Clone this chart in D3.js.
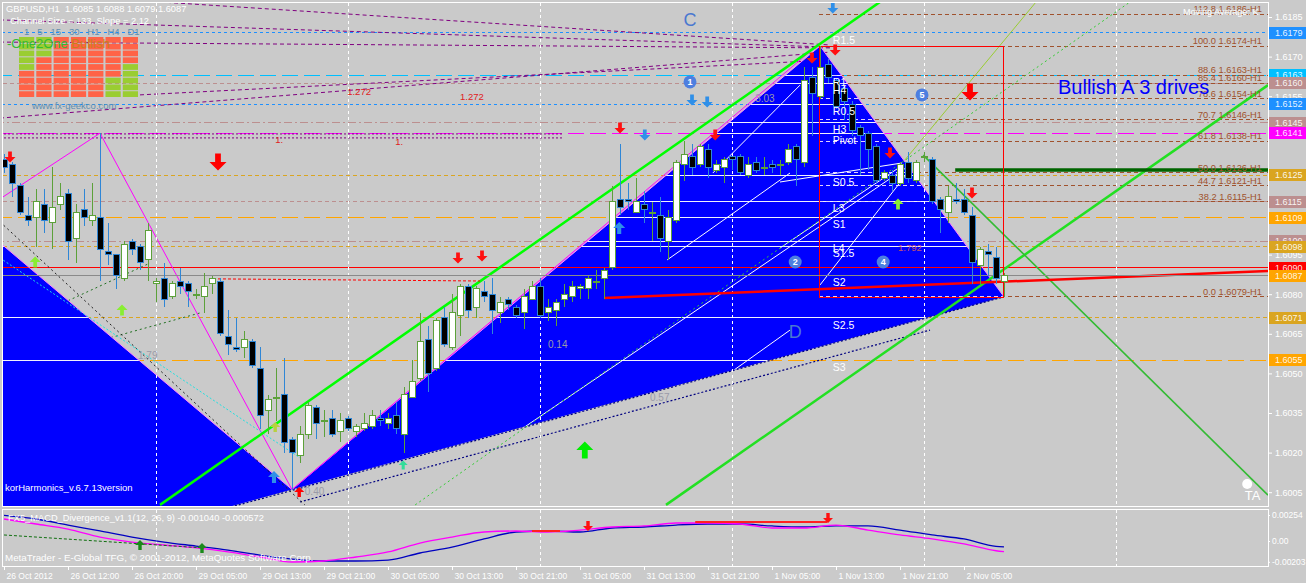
<!DOCTYPE html>
<html>
<head>
<meta charset="utf-8">
<script src="https://cdn.jsdelivr.net/npm/d3@7"></script>
<style>
body { margin: 0; background: #cacaca; }
svg { display: block; font-family: "Liberation Sans", Arial, sans-serif; }
</style>
</head>
<body>
<div id="chart"></div>
<script>
// ----- Dados (GBPUSD H1) -----
var tickBars = [0, 8, 16, 24, 32, 40, 48, 56, 64, 72, 80, 88, 96, 104, 112, 120];
var tickLabels = ["26 Oct 2012", "26 Oct 12:00", "26 Oct 20:00", "29 Oct 05:00", "29 Oct 13:00",
	"29 Oct 21:00", "30 Oct 05:00", "30 Oct 13:00", "30 Oct 21:00", "31 Oct 05:00", "31 Oct 13:00",
	"31 Oct 21:00", "1 Nov 05:00", "1 Nov 13:00", "1 Nov 21:00", "2 Nov 05:00"];
var daySeparators = [19, 43, 67, 91, 115, 139];

var open = [1.6131,1.6129,1.6121,1.6110,1.6109,1.6114,1.6107,1.6114,1.6118,1.6101,
	1.6112,1.6108,1.6109,1.6096,1.6095,1.6086,1.6100,1.6098,1.6093,1.6084,
	1.6086,1.6079,1.6085,1.6084,1.6080,1.6079,1.6084,1.6085,1.6064,1.6060,
	1.6060,1.6062,1.6052,1.6036,1.6041,1.6042,1.6025,1.6019,1.6027,1.6037,
	1.6032,1.6033,1.6028,1.6033,1.6028,1.6029,1.6030,1.6033,1.6031,1.6034,
	1.6027,1.6041,1.6048,1.6063,1.6052,1.6071,1.6060,1.6072,1.6083,1.6075,
	1.6081,1.6080,1.6073,1.6078,1.6075,1.6073,1.6078,1.6083,1.6073,1.6074,
	1.6078,1.6079,1.6082,1.6082,1.6085,1.6086,1.6090,1.6116,1.6116,1.6111,
	1.6114,1.6111,1.6110,1.6100,1.6108,1.6129,1.6132,1.6129,1.6135,1.6127,
	1.6128,1.6132,1.6132,1.6125,1.6130,1.6128,1.6129,1.6129,1.6130,1.6136,
	1.6130,1.6162,1.6155,1.6167,1.6161,1.6158,1.6152,1.6143,1.6141,1.6136,
	1.6124,1.6125,1.6122,1.6130,1.6123,1.6132,1.6131,1.6116,1.6111,1.6116,
	1.6116,1.6110,1.6091,1.6096,1.6094,1.6085];
var high = [1.6133,1.6130,1.6122,1.6117,1.6120,1.6120,1.6128,1.6122,1.6120,1.6114,
	1.6120,1.6122,1.6141,1.6107,1.6095,1.6100,1.6101,1.6099,1.6107,1.6086,
	1.6092,1.6085,1.6090,1.6085,1.6082,1.6088,1.6087,1.6086,1.6074,1.6071,
	1.6066,1.6063,1.6060,1.6042,1.6052,1.6056,1.6026,1.6030,1.6039,1.6038,
	1.6036,1.6036,1.6035,1.6034,1.6031,1.6035,1.6036,1.6036,1.6035,1.6039,
	1.6045,1.6055,1.6073,1.6068,1.6071,1.6075,1.6080,1.6084,1.6084,1.6083,
	1.6085,1.6086,1.6079,1.6079,1.6076,1.6082,1.6085,1.6086,1.6078,1.6078,
	1.6084,1.6085,1.6084,1.6087,1.6089,1.6090,1.6121,1.6137,1.6122,1.6124,
	1.6119,1.6115,1.6117,1.6112,1.6131,1.6138,1.6137,1.6137,1.6137,1.6131,
	1.6132,1.6132,1.6133,1.6132,1.6132,1.6132,1.6131,1.6131,1.6137,1.6137,
	1.6166,1.6166,1.6174,1.6169,1.6162,1.6159,1.6153,1.6144,1.6142,1.6137,
	1.6127,1.6127,1.6130,1.6134,1.6131,1.6134,1.6132,1.6117,1.6121,1.6122,
	1.6120,1.6113,1.6098,1.6099,1.6098,1.6088];
var low = [1.6126,1.6117,1.6110,1.6106,1.6098,1.6103,1.6097,1.6112,1.6093,1.6092,
	1.6106,1.6106,1.6085,1.6091,1.6082,1.6085,1.6095,1.6089,1.6085,1.6077,
	1.6075,1.6078,1.6080,1.6075,1.6078,1.6073,1.6080,1.6064,1.6057,1.6058,
	1.6056,1.6052,1.6029,1.6027,1.6032,1.6020,1.6006,1.6016,1.6025,1.6025,
	1.6026,1.6026,1.6024,1.6028,1.6026,1.6028,1.6029,1.6030,1.6029,1.6027,
	1.6020,1.6041,1.6047,1.6043,1.6051,1.6060,1.6059,1.6064,1.6071,1.6071,
	1.6077,1.6065,1.6069,1.6074,1.6071,1.6067,1.6078,1.6071,1.6070,1.6068,
	1.6075,1.6077,1.6078,1.6078,1.6082,1.6078,1.6089,1.6110,1.6112,1.6111,
	1.6107,1.6100,1.6096,1.6093,1.6107,1.6123,1.6125,1.6128,1.6124,1.6126,
	1.6122,1.6127,1.6125,1.6124,1.6126,1.6125,1.6126,1.6125,1.6129,1.6121,
	1.6128,1.6140,1.6154,1.6160,1.6150,1.6146,1.6140,1.6125,1.6127,1.6122,
	1.6123,1.6119,1.6121,1.6122,1.6122,1.6130,1.6114,1.6103,1.6107,1.6114,
	1.6110,1.6084,1.6084,1.6087,1.6084,1.6079];
var close = [1.6128,1.6122,1.6111,1.6108,1.6115,1.6108,1.6113,1.6117,1.6100,1.6111,
	1.6109,1.6110,1.6097,1.6095,1.6087,1.6099,1.6097,1.6092,1.6104,1.6085,
	1.6078,1.6084,1.6083,1.6081,1.6080,1.6083,1.6086,1.6065,1.6061,1.6059,
	1.6063,1.6053,1.6034,1.6040,1.6041,1.6024,1.6020,1.6027,1.6038,1.6031,
	1.6032,1.6027,1.6032,1.6029,1.6030,1.6031,1.6034,1.6032,1.6033,1.6029,
	1.6042,1.6047,1.6062,1.6050,1.6070,1.6061,1.6073,1.6083,1.6074,1.6082,
	1.6079,1.6074,1.6077,1.6076,1.6072,1.6079,1.6083,1.6072,1.6075,1.6077,
	1.6080,1.6083,1.6083,1.6086,1.6085,1.6089,1.6115,1.6113,1.6115,1.6115,
	1.6112,1.6111,1.6101,1.6109,1.6130,1.6133,1.6128,1.6136,1.6128,1.6129,
	1.6131,1.6131,1.6126,1.6129,1.6127,1.6128,1.6128,1.6129,1.6135,1.6131,
	1.6161,1.6156,1.6166,1.6162,1.6151,1.6153,1.6142,1.6140,1.6135,1.6123,
	1.6126,1.6122,1.6129,1.6124,1.6130,1.6132,1.6115,1.6112,1.6117,1.6115,
	1.6111,1.6092,1.6097,1.6095,1.6086,1.6087];

var priceTicks = [1.6185, 1.6170, 1.6155, 1.6140, 1.6125, 1.6110, 1.6095, 1.6080, 1.6065, 1.6050, 1.6035, 1.6020, 1.6005];

// níveis horizontais (pivots) e seus nomes
var levelPrices = [1.6179, 1.6163, 1.6160, 1.6152, 1.6145, 1.6141, 1.6125, 1.6115, 1.6109, 1.6100, 1.6098, 1.6090, 1.6087, 1.6071, 1.6055];
var levelNames = ["R1.5", "R1", "H4", "R0.5", "H3", "Pivot", "S0.5", "L3", "S1", "L4", "S1.5", "", "S2", "S2.5", "S3"];

// Fibonacci
var fibPrices = [1.6186, 1.6174, 1.6163, 1.6160, 1.6154, 1.6146, 1.6138, 1.6126, 1.6121, 1.6115, 1.6079];
var fibRatios = ["112.8", "100.0", "88.6", "85.4", "78.6", "70.7", "61.8", "50.0", "44.7", "38.2", "0.0"];
var fibStartBar = 101.9;
var boxBars = [101.9, 124.9];
var boxPrices = [1.6079, 1.6174];

// padrão harmônico (triângulos)
var triLeft = [[-30, 1.6175], [36, 1.6006], [-30, 1.5951]];
var triMain = [[36, 1.6006], [102, 1.6174], [125, 1.6079]];
var zigzag = [[-0.5, 1.61161], [12, 1.6141], [36, 1.6006], [101, 1.61725]];

// linhas de tendência [barra, preço]
var channelUpper = [[19.5, 1.60002], [109.5, 1.61907]];
var channelLower = [[82.75, 1.60002], [158, 1.61592]];
var channelDown = [[114.9, 1.61327], [158, 1.60039]];
var darkGreenLine = [[118.9, 1.6127], [158, 1.6127]];
var redThick = [[75, 1.60786], [158, 1.60888]];
var redDashed = [[26.75, 1.60858], [59.5, 1.6085]];
var lightGreenLine = [[112.6, 1.61308], [128.9, 1.61903]];
var greenDotted = [[51.4, 1.60002], [140.75, 1.61907]];
var darkGreenDotted = [
	[[-0.5, 1.60657], [18.25, 1.60918]],
	[[-0.5, 1.60520], [24.5, 1.60729]]
];
var purpleLines = [
	[[19.5, 1.61907], [103.25, 1.61744]],
	[[-0.5, 1.61839], [103.25, 1.61736]],
	[[-0.5, 1.61755], [103.25, 1.61733]],
	[[-0.5, 1.61467], [103.25, 1.61717]],
	[[17, 1.61555], [103.25, 1.61687]],
	[[-0.5, 1.61407], [70, 1.61407]],
	[[-0.5, 1.61392], [70, 1.61392]]
];
var navyLines = [
	[[-30, 1.59513], [125, 1.6079]],
	[[37, 1.60013], [115.75, 1.60664]]
];
var blackDotted = [[-0.5, 1.61074], [37.6, 1.60002]];
var cyanDotted = [[-0.5, 1.60937], [37, 1.60180]];
var whiteLines = [
	[[50.75, 1.60002], [115.1, 1.61327]],
	[[82.9, 1.6093], [98.25, 1.61259]],
	[[102, 1.60835], [114.9, 1.61335]],
	[[97, 1.60975], [112, 1.61282]],
	[[97, 1.61225], [112.25, 1.61297]],
	[[88.6, 1.61259], [99.5, 1.61592]],
	[[79, 1.60248], [98.25, 1.60664]]
];

// setas
var redDownBig = [[26.75, 1.61301], [120.75, 1.61566]];
var redDown = [[0.75, 1.6132], [77, 1.6143], [56.75, 1.60937], [59.75, 1.60945], [88.9, 1.61403],
	[101, 1.61695], [103.9, 1.61725], [110.75, 1.61335], [121, 1.61183]];
var blueDown = [[86, 1.61536], [87.9, 1.61528], [80.1, 1.61403], [103.6, 1.61884]];
var limeUpBig = [[72.6, 1.6021]];
var lightGreenUp = [[3.9, 1.60922], [14.75, 1.6074], [111.75, 1.61142]];
var blueUp = [[33.75, 1.60108], [76.9, 1.61051]];
var tealUp = [[49.9, 1.60153]];
var yellowUp = [[33.9, 1.60297]];
var redUp = [[36.9, 1.60051]];

// rótulos do padrão
var waveNums = ["1", "2", "4", "5"];
var wavePos = [[85.75, 1.61604], [98.9, 1.60922], [109.9, 1.60922], [114.75, 1.61555]];
var pointNames = ["C", "D"];
var pointPos = [[85.75, 1.61839], [98.9, 1.60657]];
var ratioTexts = ["0.40", "0.14", "0.57", "1.79", "3.03"];
var ratioPos = [[37.6, 1.60051], [68, 1.60608], [80.75, 1.60407], [16.75, 1.60566], [93.9, 1.61543]];
var redTexts = ["1.272", "1.272", "1.", "1.", "1.792"];
var redTextPos = [[42.9, 1.61566], [57, 1.61547], [33.9, 1.61384], [48.9, 1.61377], [111.75, 1.60975]];

// MACD
var macdBars = [0,4,8,12,16,20,24,28,32,36,40,44,48,52,56,60,64,68,72,76,80,84,88,92,96,100,104,108,112,116,120,124,125];
var macdMain = [0.00215,0.00166,0.00117,0.00039,-0.00010,-0.00039,-0.00068,-0.00107,-0.00156,-0.00205,
	-0.00195,-0.00156,-0.00107,-0.00020,0.00039,0.00088,0.00098,0.00088,0.00107,0.00137,
	0.00147,0.00176,0.00176,0.00166,0.00127,0.00127,0.00156,0.00107,0.00059,0.00020,
	-0.00029,-0.00095,-0.00104];
var macdSignal = [0.00250,0.00215,0.00156,0.00098,0.00039,-0.00010,-0.00049,-0.00088,-0.00137,-0.00176,
	-0.00195,-0.00195,-0.00186,-0.00117,-0.00059,0.00020,0.00088,0.00098,0.00088,0.00127,
	0.00137,0.00156,0.00166,0.00166,0.00147,0.00137,0.00147,0.00147,0.00107,0.00059,
	0.00020,-0.00052,-0.00057];
var macdDivLine = [[0, 0.00059], [25, -0.00068]];
var macdRedSegs = [[[66, 0.00098], [69.5, 0.00098]], [[86.4, 0.00186], [102.9, 0.00186]]];
var macdGreenUp = [[17, -0.00039], [24.75, -0.00068]];
var macdRedDown = [[73, 0.00107], [103, 0.00186]];
var macdTicks = [0.00254, 0, -0.00203];
var macdTickLabels = ["0.00254", "0.00", "-0.00203"];

// painel MTF
var mtfCols = ["1", "5", "15", "30", "H1", "H4", "D1"];
var mtfGrid = ["ggrrrrr", "ggrrrrr", "ggrrrrr", "grrrrrr", "grrrrrg", "rrrrrrg", "rrrrrgg", "rrrrrgg", "rrrrrgg"];

// ----- Construção -----
var W = 1306, H = 583;
var plotRight = 1268, plotBottom = 506;
var bg = "#cacaca";

var x = d3.scaleLinear().domain([0, 125]).range([4, 1004]);
var y = d3.scaleLinear().domain([1.6000, 1.6191]).range([505.4, 1.16]);
var yM = d3.scaleLinear().domain([-0.00203, 0.00254]).range([561.8, 515]);

var svg = d3.select("#chart").append("svg").attr("width", W).attr("height", H);
svg.append("rect").attr("width", W).attr("height", H).attr("fill", bg);

var defs = svg.append("defs");
defs.append("clipPath").attr("id", "clipMain").append("rect")
	.attr("x", 3).attr("y", 3).attr("width", plotRight - 3).attr("height", plotBottom - 3);
defs.append("clipPath").attr("id", "clipMacd").append("rect")
	.attr("x", 3).attr("y", 510).attr("width", plotRight - 3).attr("height", 56);
var triPath = function(t) { return "M" + t.map(function(d) { return [x(d[0]), y(d[1])]; }).join("L") + "Z"; };
defs.append("clipPath").attr("id", "clipBlue").append("path")
	.attr("d", triPath(triLeft) + triPath(triMain));

var main = svg.append("g").attr("clip-path", "url(#clipMain)");
var line = d3.line().x(function(d) { return x(d[0]); }).y(function(d) { return y(d[1]); });

function drawLine(g, pts, color, width, dash) {
	return g.append("path").attr("d", line(pts)).attr("fill", "none")
		.attr("stroke", color).attr("stroke-width", width)
		.attr("stroke-dasharray", dash || null);
}

// estilo de cada nível
var levelColor = ["#1e90ff", "#00bfff", "#bc8f8f", "#1e90ff", "#bc8f8f", "#ff00ff", "#daa520", "#bc8f8f",
	"#ffa500", "#bc8f8f", "#daa520", "#ff0000", "#ffa500", "#daa520", "#ffa500"];
var levelDash = ["3,3", "16,6", "4,3", "3,3", "8,3,2,3", "16,6", "4,3", "4,3", "16,6", "8,3,2,3", "4,3", null, "16,6", "4,3", "16,6"];

//Linhas horizontais
var levelG = main.append("g").attr("shape-rendering", "crispEdges");
levelPrices.forEach(function(p, i) {
	drawLine(levelG, [[-1, p], [160, p]], levelColor[i], 1, levelDash[i]);
});
//Fibonacci
var fibG = main.append("g").attr("shape-rendering", "crispEdges");
fibPrices.forEach(function(p, i) {
	drawLine(fibG, [[fibStartBar, p], [160, p]], "#a0522d", 1, "4,3");
});
//Linhas roxas
purpleLines.forEach(function(l, i) {
	drawLine(main, l, "#800080", 1, i < 5 ? "4,3" : "2,2");
});
darkGreenDotted.forEach(function(l) { drawLine(main, l, "#1f6f1f", 1, "2,3"); });

//Triângulos azuis
main.append("path").attr("d", triPath(triLeft) + triPath(triMain)).attr("fill", "#0000ff");

//Cópias brancas dentro do azul
var xorG = main.append("g").attr("clip-path", "url(#clipBlue)");
var xorLevels = xorG.append("g").attr("shape-rendering", "crispEdges");
levelPrices.forEach(function(p, i) {
	if (levelColor[i] === "#ff0000") {
		drawLine(xorLevels, [[-1, p], [160, p]], "#ff0000", 1, null);
	} else {
		drawLine(xorLevels, [[-1, p], [160, p]], "#f0f0ff", 1, null);
	}
});
fibPrices.forEach(function(p) {
	drawLine(xorLevels, [[fibStartBar, p], [160, p]], "#e0d0ff", 1, "4,3");
});
whiteLines.forEach(function(l) { drawLine(xorG, l, "#ffffff", 1, null); });

//Bordas do padrão
drawLine(main, triLeft.slice(0, 2), "#ff80ff", 1);
drawLine(main, triMain, "#ff80ff", 1);
drawLine(main, zigzag, "#ff00ff", 1);
navyLines.forEach(function(l) { drawLine(main, l, "#000080", 1.2, "2,2"); });
drawLine(main, blackDotted, "#202020", 1, "2,3");
drawLine(main, cyanDotted, "#20e0e0", 1, "2,2");

//Separadores de dia
main.append("g").selectAll("line").data(daySeparators).enter().append("line")
	.attr("x1", function(d) { return Math.round(x(d)) + 0.5; })
	.attr("x2", function(d) { return Math.round(x(d)) + 0.5; })
	.attr("y1", 3).attr("y2", plotBottom)
	.attr("stroke", "#ffffff").attr("stroke-dasharray", "3,3");

//Linhas verdes e vermelhas
drawLine(main, greenDotted, "#33cc33", 1, "2,3");
drawLine(main, lightGreenLine, "#9acd32", 1);
drawLine(main, channelUpper, "#00ff00", 2.5);
drawLine(main, channelLower, "#22e022", 2.5);
drawLine(main, channelDown, "#33bb33", 1.6);
drawLine(main, darkGreenLine, "#006400", 3.5);
drawLine(main, redThick, "#ff0000", 2.5);
drawLine(main, redDashed, "#ff0000", 1, "3,2");
main.append("rect")
	.attr("x", Math.round(x(boxBars[0])) + 0.5).attr("y", Math.round(y(boxPrices[1])) + 0.5)
	.attr("width", Math.round(x(boxBars[1]) - x(boxBars[0])))
	.attr("height", Math.round(y(boxPrices[0]) - y(boxPrices[1])))
	.attr("fill", "none").attr("stroke", "#ff0000");
//Linha do preço atual
drawLine(main, [[-1, close[close.length - 1]], [160, close[close.length - 1]]], "#8a8a8a", 1).attr("shape-rendering", "crispEdges");

//Candles
var candleG = main.append("g").attr("shape-rendering", "crispEdges");
var bars = candleG.selectAll("g").data(d3.range(open.length)).enter().append("g");
var bullColor = "#5ca13a", bearColor = "#2f86d6";
bars.append("line")
	.attr("x1", function(i) { return Math.round(x(i)) + 0.5; })
	.attr("x2", function(i) { return Math.round(x(i)) + 0.5; })
	.attr("y1", function(i) { return y(high[i]); })
	.attr("y2", function(i) { return y(low[i]); })
	.attr("stroke", function(i) { return close[i] >= open[i] ? bullColor : bearColor; });
bars.append("rect")
	.attr("x", function(i) { return Math.round(x(i)) - 2.5; })
	.attr("y", function(i) { return y(Math.max(open[i], close[i])); })
	.attr("width", 6)
	.attr("height", function(i) { return Math.max(1, Math.abs(y(open[i]) - y(close[i]))); })
	.attr("fill", function(i) { return close[i] > open[i] ? "#ffffff" : (close[i] < open[i] ? "#000000" : "none"); })
	.attr("stroke", function(i) { return close[i] >= open[i] ? bullColor : bearColor; });

//Setas
function arrowPath(s, up) {
	var w = s * 0.34, hw = s * 0.5, h = s / 2;
	var p = [[-w / 2, -h], [w / 2, -h], [w / 2, 0], [hw, 0], [0, h], [-hw, 0], [-w / 2, 0]];
	if (up) p = p.map(function(d) { return [d[0], -d[1]]; });
	return "M" + p.join("L") + "Z";
}
function drawArrows(list, size, up, color) {
	main.append("g").selectAll("path").data(list).enter().append("path")
		.attr("transform", function(d) { return "translate(" + x(d[0]) + "," + y(d[1]) + ")"; })
		.attr("d", arrowPath(size, up)).attr("fill", color);
}
drawArrows(redDownBig, 17, false, "#ff0000");
drawArrows(redDown, 11, false, "#ff1010");
drawArrows(blueDown, 11, false, "#2f8fe8");
drawArrows(limeUpBig, 17, true, "#00ee00");
drawArrows(lightGreenUp, 11, true, "#88ee33");
drawArrows(blueUp, 12, true, "#2f8fe8");
drawArrows(tealUp, 9, true, "#33dd99");
drawArrows(yellowUp, 10, true, "#b8d040");
drawArrows(redUp, 10, true, "#ff0000");

//Números das ondas
var waves = main.append("g").selectAll("g").data(waveNums).enter().append("g")
	.attr("transform", function(d, i) { return "translate(" + x(wavePos[i][0]) + "," + y(wavePos[i][1]) + ")"; });
waves.append("circle").attr("r", 6.5).attr("fill", "#4d7fe0");
waves.append("text").text(function(d) { return d; }).attr("text-anchor", "middle").attr("dy", "0.35em")
	.attr("fill", "#ffffff").attr("font-size", 9).attr("font-weight", "bold");
main.append("g").selectAll("text").data(pointNames).enter().append("text")
	.attr("x", function(d, i) { return x(pointPos[i][0]); })
	.attr("y", function(d, i) { return y(pointPos[i][1]); })
	.attr("dy", "0.35em").attr("text-anchor", "middle")
	.attr("fill", "#4a78d0").attr("font-size", 18).text(function(d) { return d; });
main.append("g").selectAll("text").data(ratioTexts).enter().append("text")
	.attr("x", function(d, i) { return x(ratioPos[i][0]); })
	.attr("y", function(d, i) { return y(ratioPos[i][1]); })
	.attr("dy", "0.35em").attr("fill", "#9a9aa8").attr("font-size", 10).text(function(d) { return d; });
main.append("g").selectAll("text").data(redTexts).enter().append("text")
	.attr("x", function(d, i) { return x(redTextPos[i][0]); })
	.attr("y", function(d, i) { return y(redTextPos[i][1]); })
	.attr("dy", "0.35em").attr("fill", function(d, i) { return i === 4 ? "#c05070" : "#e02020"; })
	.attr("font-size", 9.5).text(function(d) { return d; });

//Nomes dos pivots
main.append("g").selectAll("text").data(levelNames).enter().append("text")
	.attr("x", x(103.6)).attr("y", function(d, i) { return y(levelPrices[i]) + 7; })
	.attr("dy", "0.35em").attr("fill", "#ffffff").attr("font-size", 10.5).text(function(d) { return d; });

//Textos dos níveis Fibonacci
main.append("g").selectAll("text").data(fibRatios).enter().append("text")
	.attr("x", plotRight - 6).attr("y", function(d, i) { return y(fibPrices[i]) - 2; })
	.attr("text-anchor", "end").attr("fill", "#a0522d").attr("font-size", 9.3)
	.text(function(d, i) { return d + " " + fibPrices[i].toFixed(4) + "-H1"; });

main.append("text").attr("x", x(131.75)).attr("y", y(1.61585)).attr("dy", "0.35em")
	.attr("fill", "#0000ff").attr("font-size", 20).text("Bullish A 3 drives");
main.append("text").attr("x", 1183).attr("y", 15).attr("fill", "#ffffff").attr("font-size", 9)
	.text("Moving Average: K");
main.append("circle").attr("cx", x(155.4)).attr("cy", y(1.60081)).attr("r", 5).attr("fill", "#ffffff");
main.append("text").attr("x", x(155.1)).attr("y", y(1.60039)).attr("dy", "0.35em")
	.attr("fill", "#ffffff").attr("font-size", 13).text("TA");

//Painel MTF (canto superior esquerdo)
var mtf = main.append("g");
var colX = d3.scaleBand().domain(d3.range(7)).range([19, 138]).paddingInner(0.12);
var rowY = d3.scaleBand().domain(d3.range(mtfGrid.length)).range([37, 97]).paddingInner(0.15);
mtfGrid.forEach(function(row, r) {
	row.split("").forEach(function(c, k) {
		mtf.append("rect").attr("x", colX(k)).attr("y", rowY(r))
			.attr("width", colX.bandwidth()).attr("height", rowY.bandwidth())
			.attr("fill", c === "g" ? "#9acd32" : "#ff6347");
	});
});
mtf.append("text").attr("x", 24).attr("y", 35).attr("fill", "#5f8fb0").attr("font-size", 9.5)
	.attr("xml:space", "preserve").text(mtfCols.join("   "));
var one = mtf.append("text").attr("x", 7).attr("y", 48).attr("font-size", 13);
one.append("tspan").attr("fill", "#33bb33").text("-One2One ");
one.append("tspan").attr("fill", "#c8801a").text("Bullish");
mtf.append("text").attr("x", 32).attr("y", 109).attr("fill", "#5f8fb0").attr("font-size", 9.5).text("www.fx-geekco.com");
main.append("text").attr("x", 6).attr("y", 12).attr("fill", "#ffffff").attr("font-size", 9.3)
	.attr("xml:space", "preserve").text("GBPUSD,H1  1.6085 1.6088 1.6079 1.6087");
main.append("text").attr("x", 10).attr("y", 24).attr("fill", "#ffffff").attr("font-size", 9.3)
	.text("Channel Size = 133, Slope = 2.12");
main.append("text").attr("x", 5).attr("y", 491).attr("fill", "#ffffff").attr("font-size", 9.5)
	.text("korHarmonics_v.6.7.13version");

//Eixo de preços (rótulos escondidos sob as etiquetas são omitidos)
var visibleTicks = priceTicks.filter(function(p) {
	return !levelPrices.some(function(l) { return Math.abs(y(l) - y(p)) < 6; });
});
var axisR = svg.append("g").attr("transform", "translate(" + plotRight + ",0)")
	.call(d3.axisRight(y).tickValues(visibleTicks).tickSize(4).tickPadding(3).tickFormat(d3.format(".4f")));
axisR.select(".domain").remove();
axisR.selectAll("line").attr("stroke", "#ffffff");
axisR.selectAll("text").attr("fill", "#ffffff").attr("font-size", 9).attr("font-family", "Liberation Sans, Arial");

//Etiquetas coloridas dos níveis
var tags = svg.append("g").selectAll("g").data(levelPrices).enter().append("g")
	.attr("transform", function(d) { return "translate(" + (plotRight + 1) + "," + Math.round(y(d)) + ")"; });
tags.append("rect").attr("x", 0).attr("y", -6).attr("width", 38).attr("height", 12)
	.attr("fill", function(d, i) { return levelColor[i]; });
tags.append("text").attr("x", 6).attr("dy", "0.35em").attr("fill", "#ffffff").attr("fill-opacity", 0.9)
	.attr("font-size", 9).text(function(d) { return d.toFixed(4); });

//Painel MACD
var macd = svg.append("g").attr("clip-path", "url(#clipMacd)");
macd.append("g").selectAll("line").data(daySeparators).enter().append("line")
	.attr("x1", function(d) { return Math.round(x(d)) + 0.5; })
	.attr("x2", function(d) { return Math.round(x(d)) + 0.5; })
	.attr("y1", 510).attr("y2", 566)
	.attr("stroke", "#ffffff").attr("stroke-dasharray", "3,3");
var mline = d3.line().x(function(d) { return x(d[0]); }).y(function(d) { return yM(d[1]); }).curve(d3.curveMonotoneX);
macd.append("path").attr("d", mline(macdBars.map(function(b, i) { return [b, macdSignal[i]]; })))
	.attr("fill", "none").attr("stroke", "#0000c0").attr("stroke-width", 1.3);
macd.append("path").attr("d", mline(macdBars.map(function(b, i) { return [b, macdMain[i]]; })))
	.attr("fill", "none").attr("stroke", "#ff00ff").attr("stroke-width", 1.3);
macd.append("path").attr("d", mline(macdDivLine)).attr("fill", "none")
	.attr("stroke", "#107010").attr("stroke-dasharray", "3,2");
macdRedSegs.forEach(function(s) {
	macd.append("path").attr("d", mline(s)).attr("fill", "none").attr("stroke", "#ff2020").attr("stroke-width", 2);
});
macd.append("g").selectAll("path").data(macdGreenUp).enter().append("path")
	.attr("transform", function(d) { return "translate(" + x(d[0]) + "," + yM(d[1]) + ")"; })
	.attr("d", arrowPath(10, true)).attr("fill", "#1a8a1a");
macd.append("g").selectAll("path").data(macdRedDown).enter().append("path")
	.attr("transform", function(d) { return "translate(" + x(d[0]) + "," + (yM(d[1]) - 4) + ")"; })
	.attr("d", arrowPath(10, false)).attr("fill", "#ff1010");
macd.append("text").attr("x", 8).attr("y", 521).attr("fill", "#ffffff").attr("font-size", 9.3)
	.text("FX5_MACD_Divergence_v1.1(12, 26, 9) -0.001040 -0.000572");
macd.append("text").attr("x", 5).attr("y", 561).attr("fill", "#ffffff").attr("font-size", 9.8)
	.text("MetaTrader - E-Global TFG, \u00a9 2001-2012, MetaQuotes Software Corp.");

var axisM = svg.append("g").attr("transform", "translate(" + plotRight + ",0)")
	.call(d3.axisRight(yM).tickValues(macdTicks).tickSize(2).tickPadding(2)
		.tickFormat(function(d, i) { return macdTickLabels[i]; }));
axisM.select(".domain").remove();
axisM.selectAll("line").attr("stroke", "#ffffff");
axisM.selectAll("text").attr("fill", "#ffffff").attr("font-size", 8.5).attr("font-family", "Liberation Sans, Arial");

//Eixo do tempo
var axisB = svg.append("g").attr("transform", "translate(0,566)")
	.call(d3.axisBottom(x).tickValues(tickBars).tickSize(4).tickPadding(3)
		.tickFormat(function(d, i) { return tickLabels[i]; }));
axisB.select(".domain").remove();
axisB.selectAll("line").attr("stroke", "#ffffff");
axisB.selectAll("text").attr("fill", "#ffffff").attr("font-size", 8.5).attr("text-anchor", "start")
	.attr("dx", 2).attr("font-family", "Liberation Sans, Arial");

//Molduras
var frame = svg.append("g").attr("fill", "none").attr("stroke", "#ffffff").attr("shape-rendering", "crispEdges");
frame.append("rect").attr("x", 2.5).attr("y", 2.5).attr("width", plotRight - 2).attr("height", plotBottom - 2);
frame.append("rect").attr("x", 2.5).attr("y", 509.5).attr("width", plotRight - 2).attr("height", 57);
</script>
</body>
</html>
